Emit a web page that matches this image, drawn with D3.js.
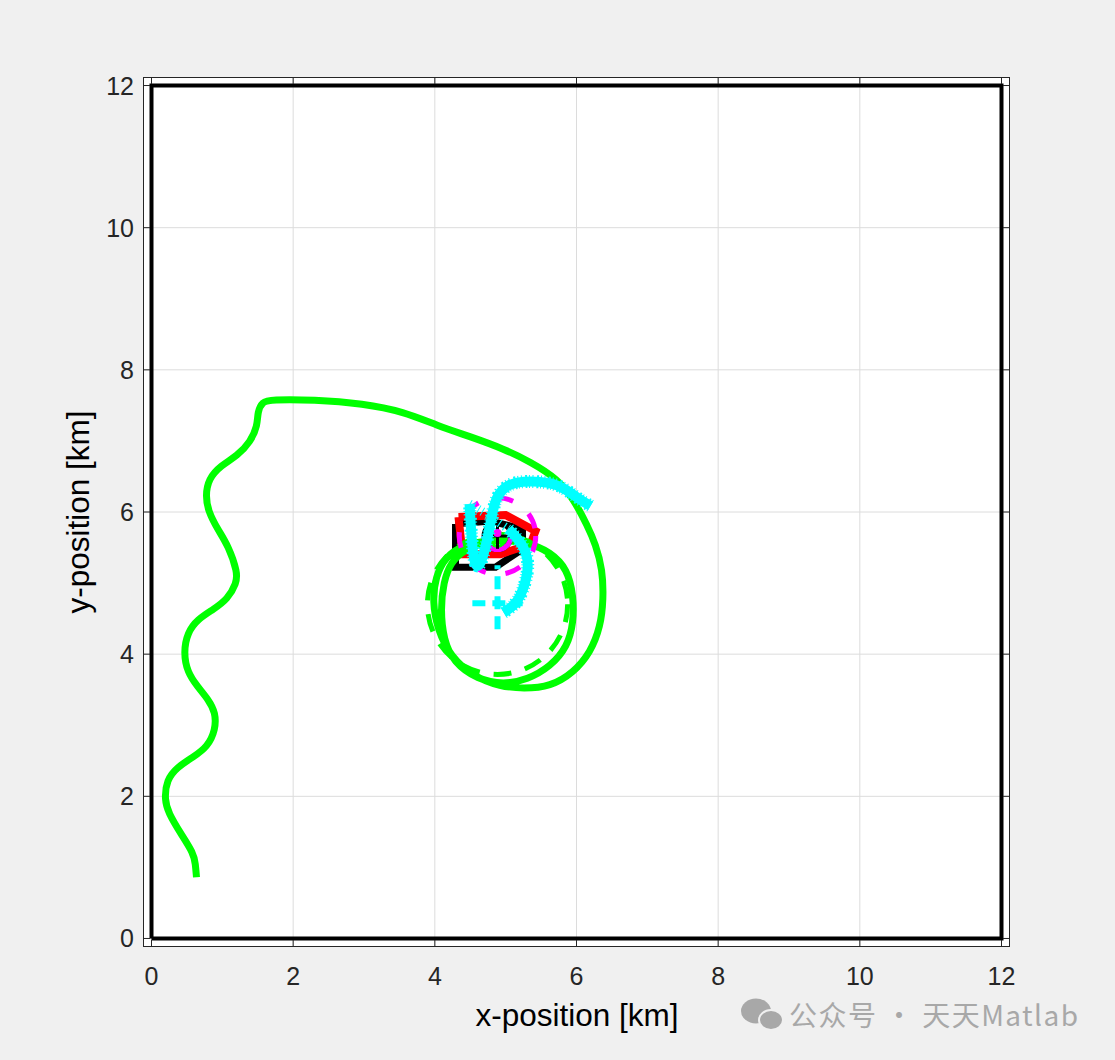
<!DOCTYPE html>
<html><head><meta charset="utf-8">
<script src="https://cdn.jsdelivr.net/npm/d3@7"></script>
<style>body{margin:0;background:#f0f0f0;} svg{display:block;font-family:"Liberation Sans",Arial,sans-serif;}</style>
</head><body><svg id="c" width="1115" height="1060"></svg>
<script>
// ---- data (km) ----
const xTicks=[0,2,4,6,8,10,12];
const yTicks=[0,2,4,6,8,10,12];
const areaBounds=[[0,0],[12,0],[12,12],[0,12],[0,0]];
const truePath=[[0.635,0.861],[0.620,1.050],[0.593,1.200],[0.409,1.482],[0.240,1.765],[0.184,1.948],[0.212,2.231],[0.367,2.414],[0.593,2.555],[0.791,2.697],[0.904,2.937],[0.904,3.177],[0.805,3.360],[0.649,3.544],[0.508,3.741],[0.452,4.024],[0.508,4.306],[0.649,4.490],[0.875,4.631],[1.073,4.772],[1.200,5.000],[1.214,5.150],[1.087,5.520],[0.932,5.760],[0.805,6.000],[0.762,6.226],[0.805,6.466],[0.974,6.650],[1.214,6.791],[1.398,6.989],[1.497,7.214],[1.497,7.412],[1.567,7.553],[1.680,7.581],[2.287,7.581],[2.993,7.525],[3.558,7.412],[4.038,7.214],[4.504,7.059],[4.970,6.890],[5.351,6.706],[5.732,6.466],[5.958,6.184],[6.156,5.803],[6.269,5.548],[6.367,5.196],[6.381,4.772],[6.339,4.391],[6.198,4.024],[5.958,3.741],[5.633,3.544],[5.252,3.515],[4.927,3.544],[4.546,3.685],[4.221,3.967],[4.038,4.348],[3.967,4.730],[4.010,5.097],[4.151,5.365],[4.363,5.520],[4.786,5.619],[5.308,5.577],[5.633,5.436],[5.873,5.196],[5.958,4.814],[5.958,4.447],[5.873,4.108],[5.633,3.826],[5.308,3.643],[4.970,3.572],[4.603,3.643],[4.264,3.883],[4.123,4.207],[4.080,4.631],[4.123,5.012],[4.221,5.294],[4.433,5.478],[4.645,5.548]];
const orbitCenter=[4.885,4.701], orbitRadius=0.99;
const cyanTrackA=[[6.198,6.085],[6.029,6.184],[5.845,6.325],[5.633,6.424],[5.210,6.438],[5.026,6.381],[4.885,6.254],[4.814,6.014],[4.744,5.619],[4.645,5.224],[4.560,5.224],[4.518,5.619],[4.490,6.113]];
const cyanTrackB=[[4.970,4.588],[5.111,4.673],[5.210,4.814],[5.280,5.012],[5.323,5.224],[5.294,5.436],[5.181,5.619],[5.040,5.760]];
const cyanTrackC=[[4.490,6.113],[4.687,6.000],[4.927,5.831],[5.040,5.760]];
const cyanCrossV=[[4.885,4.35],[4.885,5.25]];
const cyanCrossH=[[4.53,4.715],[5.24,4.715]];
const blackPoly=[[4.292,5.831],[4.786,5.873],[5.238,5.760],[5.238,5.478],[4.857,5.224],[4.292,5.224],[4.292,5.831]];
const redPoly=[[4.334,5.930],[4.998,5.958],[5.421,5.732],[5.351,5.548],[4.927,5.407],[4.391,5.407],[4.334,5.930]];
const targetCenter=[4.885,5.661], magentaRadius=0.54, innerRadius=0.19, greenRingRadius=0.1;

// ---- layout ----
const svg=d3.select("#c");
const x=d3.scaleLinear().domain([-0.12,12.12]).range([143,1010]);
const y=d3.scaleLinear().domain([-0.12,12.12]).range([947,77]);
const line=d3.line().x(d=>x(d[0])).y(d=>y(d[1]));
const smooth=d3.line().x(d=>x(d[0])).y(d=>y(d[1])).curve(d3.curveBasis);
const txt="#262626";

svg.append("rect").attr("x",143).attr("y",77).attr("width",867).attr("height",870).attr("fill","#fff");
// grid
svg.append("g").selectAll("line").data(xTicks).join("line")
  .attr("x1",d=>x(d)).attr("x2",d=>x(d)).attr("y1",77).attr("y2",947)
  .attr("stroke","#dcdcdc").attr("stroke-width",1);
svg.append("g").selectAll("line").data(yTicks).join("line")
  .attr("y1",d=>y(d)).attr("y2",d=>y(d)).attr("x1",143).attr("x2",1010)
  .attr("stroke","#dcdcdc").attr("stroke-width",1);

svg.append("defs").append("clipPath").attr("id","cl").append("rect")
  .attr("x",143).attr("y",77).attr("width",867).attr("height",870);
const g=svg.append("g").attr("clip-path","url(#cl)");

// boundary
g.append("path").attr("d",line(areaBounds)).attr("fill","none").attr("stroke","#000").attr("stroke-width",4);

// black & red polygons
g.append("path").attr("d",line(blackPoly)).attr("fill","none").attr("stroke","#000").attr("stroke-width",7);
g.append("path").attr("d",line(redPoly)).attr("fill","none").attr("stroke","#ff0000").attr("stroke-width",8);

const pr=r=>x(r)-x(0);
// dashed green orbit
g.append("circle").attr("cx",x(orbitCenter[0])).attr("cy",y(orbitCenter[1])).attr("r",pr(orbitRadius))
  .attr("fill","none").attr("stroke","#00ff00").attr("stroke-width",5).attr("stroke-dasharray","18,14");
// true path
g.append("path").attr("d",smooth(truePath)).attr("fill","none").attr("stroke","#00ff00").attr("stroke-width",7).attr("stroke-linecap","butt").attr("stroke-linejoin","round");

// magenta dashed circle
g.append("circle").attr("cx",x(targetCenter[0])).attr("cy",y(targetCenter[1])).attr("r",pr(magentaRadius))
  .attr("fill","none").attr("stroke","#ff00ff").attr("stroke-width",5).attr("stroke-dasharray","16,20");
// inner ring: black top, magenta bottom
const cx0=x(targetCenter[0]), cy0=y(targetCenter[1]);
g.append("circle").attr("cx",cx0).attr("cy",cy0).attr("r",pr(innerRadius))
  .attr("fill","none").attr("stroke","#000").attr("stroke-width",5);
g.append("path").attr("transform",`translate(${cx0},${cy0})`)
  .attr("d",d3.arc()({innerRadius:pr(innerRadius)-2.5,outerRadius:pr(innerRadius)+2.5,startAngle:Math.PI/2,endAngle:Math.PI*1.5}))
  .attr("fill","#ff00ff");
g.append("circle").attr("cx",cx0).attr("cy",cy0+3).attr("r",pr(greenRingRadius))
  .attr("fill","none").attr("stroke","#00ff00").attr("stroke-width",3);
// black crosshair
const ch=pr(0.18);
g.append("line").attr("x1",cx0-ch).attr("x2",cx0+ch).attr("y1",cy0).attr("y2",cy0).attr("stroke","#000").attr("stroke-width",3);
g.append("line").attr("x1",cx0).attr("x2",cx0).attr("y1",cy0-ch).attr("y2",cy0+ch).attr("stroke","#000").attr("stroke-width",3);
g.append("circle").attr("cx",cx0).attr("cy",cy0-3).attr("r",4).attr("fill","#ff00ff");

// cyan cross (dashed)
[cyanCrossV,cyanCrossH].forEach(seg=>g.append("path").attr("d",line(seg)).attr("fill","none")
  .attr("stroke","#00ffff").attr("stroke-width",6).attr("stroke-dasharray","13,7"));
// cyan noisy tracks
[cyanTrackA,cyanTrackB].forEach(tr=>{
  g.append("path").attr("d",smooth(tr)).attr("fill","none").attr("stroke","#00ffff").attr("stroke-width",13)
    .attr("stroke-dasharray","1,1.7,2,3.1,1,2.3").attr("stroke-linejoin","round");
  g.append("path").attr("d",smooth(tr)).attr("fill","none").attr("stroke","#00ffff").attr("stroke-width",10)
    .attr("stroke-linejoin","round");
});
g.append("path").attr("d",smooth(cyanTrackC)).attr("fill","none").attr("stroke","#00ffff").attr("stroke-width",9)
  .attr("stroke-dasharray","1,3.3,1,5");

// axes box and ticks
svg.append("rect").attr("x",143.5).attr("y",77.5).attr("width",866).attr("height",869).attr("fill","none").attr("stroke","#262626").attr("stroke-width",1);
const tl=7;
xTicks.forEach(t=>{
  svg.append("line").attr("x1",x(t)).attr("x2",x(t)).attr("y1",947).attr("y2",947-tl).attr("stroke",txt);
  svg.append("line").attr("x1",x(t)).attr("x2",x(t)).attr("y1",77).attr("y2",77+tl).attr("stroke",txt);
});
yTicks.forEach(t=>{
  svg.append("line").attr("y1",y(t)).attr("y2",y(t)).attr("x1",143).attr("x2",143+tl).attr("stroke",txt);
  svg.append("line").attr("y1",y(t)).attr("y2",y(t)).attr("x1",1010).attr("x2",1010-tl).attr("stroke",txt);
});
svg.append("g").selectAll("text").data(xTicks).join("text")
  .attr("x",d=>x(d)).attr("y",985).attr("text-anchor","middle").attr("font-size",25).attr("fill",txt).text(d=>d);
svg.append("g").selectAll("text").data(yTicks).join("text")
  .attr("x",134).attr("y",d=>y(d)+9).attr("text-anchor","end").attr("font-size",25).attr("fill",txt).text(d=>d);
svg.append("text").attr("x",577).attr("y",1026).attr("text-anchor","middle").attr("font-size",31.5).attr("fill","#000").text("x-position [km]");
svg.append("text").attr("transform","translate(89,512) rotate(-90)").attr("text-anchor","middle").attr("font-size",31.5).attr("fill","#000").text("y-position [km]");

// watermark
const wm=svg.append("g").attr("fill","#a8a8a8");
wm.append("ellipse").attr("cx",756).attr("cy",1011).attr("rx",15).attr("ry",12.5);
wm.append("ellipse").attr("cx",771).attr("cy",1020).attr("rx",12).attr("ry",10).attr("stroke","#f0f0f0").attr("stroke-width",2);
svg.append("text").attr("x",789).attr("y",1026).attr("font-size",28).attr("fill","#a8a8a8").attr("textLength",289)
  .attr("font-family","'Noto Sans CJK SC','Noto Sans',sans-serif").text("公众号 · 天天Matlab");
</script></body></html>
